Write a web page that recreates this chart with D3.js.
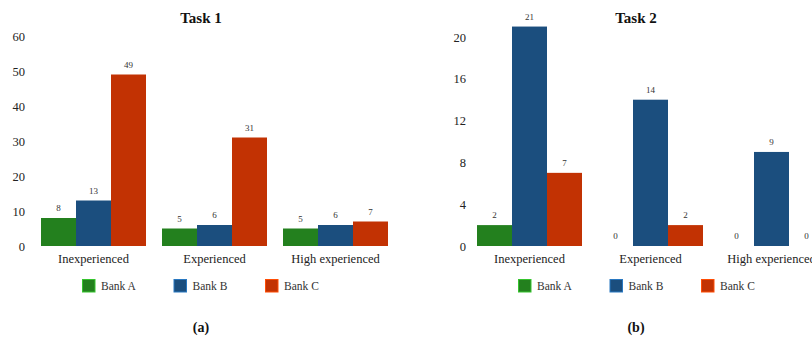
<!DOCTYPE html>
<html>
<head>
<meta charset="utf-8">
<script src="https://cdn.jsdelivr.net/npm/d3@7"></script>
<style>
  html, body { margin: 0; padding: 0; background: #fff; overflow: hidden; }
  svg { display: block; }
  svg text { font-family: "Liberation Serif", "Times New Roman", Times, serif; }
</style>
</head>
<body>
<svg id="chart" width="812" height="339"></svg>
<script>
// Experience levels and banks
const categories = ["Inexperienced", "Experienced", "High experienced"];
const banks = ["Bank A", "Bank B", "Bank C"];
const bankColors = ["#23801e", "#1b4e7e", "#c23203"];

// Task 1 counts, one array per bank, ordered like categories
const task1BankA = [8, 5, 5];
const task1BankB = [13, 6, 6];
const task1BankC = [49, 31, 7];
const task1Ticks = [0, 10, 20, 30, 40, 50, 60];

// Task 2 counts
const task2BankA = [2, 0, 0];
const task2BankB = [21, 14, 9];
const task2BankC = [7, 2, 0];
const task2Ticks = [0, 4, 8, 12, 16, 20];

const SERIF = "Liberation Serif, Times New Roman, Times, serif";
const svg = d3.select("#chart").attr("font-family", SERIF);
const color = d3.scaleOrdinal().domain(banks).range(bankColors);

function drawPanel(opt) {
  const g = svg.append("g");
  const baseline = 246;

  const y = d3.scaleLinear().domain([0, opt.yMax]).range([baseline, opt.yTop]);
  const x0 = d3.scaleBand().domain(categories)
    .range([opt.xStart, opt.xStart + 347]).paddingInner(16 / 121).paddingOuter(0);
  const x1 = d3.scaleBand().domain(banks).range([0, x0.bandwidth()]).padding(0);

  const rows = categories.map((c, i) => ({
    category: c,
    values: banks.map((b, j) => ({ bank: b, value: opt.series[j][i] }))
  }));

  // Title
  g.append("text")
    .attr("x", opt.titleX).attr("y", 23)
    .attr("text-anchor", "middle")
    .attr("font-weight", "bold").attr("font-size", 15).attr("fill", "#111")
    .text(opt.title);

  // Value axis (labels only)
  const yAxis = g.append("g")
    .attr("transform", `translate(${opt.yAxisX},0)`)
    .call(d3.axisLeft(y).tickValues(opt.ticks).tickSize(0).tickPadding(8))
    .attr("font-family", SERIF).attr("font-size", 12.5);
  yAxis.select(".domain").remove();
  yAxis.selectAll("text").attr("fill", "#222");

  // Category axis (labels only)
  const xAxis = g.append("g")
    .attr("transform", `translate(0,${baseline})`)
    .call(d3.axisBottom(x0).tickSize(0).tickPadding(8.5))
    .attr("font-family", SERIF).attr("font-size", 12.5);
  xAxis.select(".domain").remove();
  xAxis.selectAll("text").attr("fill", "#222");

  // Bars
  const groups = g.selectAll(".grp").data(rows).join("g")
    .attr("class", "grp")
    .attr("transform", d => `translate(${x0(d.category)},0)`);

  groups.selectAll("rect").data(d => d.values).join("rect")
    .attr("x", d => x1(d.bank))
    .attr("y", d => y(d.value))
    .attr("width", x1.bandwidth())
    .attr("height", d => baseline - y(d.value))
    .attr("fill", d => color(d.bank));

  // Value labels
  groups.selectAll("text.val").data(d => d.values).join("text")
    .attr("class", "val")
    .attr("x", d => x1(d.bank) + x1.bandwidth() / 2)
    .attr("y", d => y(d.value) - 7)
    .attr("text-anchor", "middle")
    .attr("font-size", 9).attr("fill", "#333")
    .text(d => d.value);

  // Legend
  const legend = g.selectAll(".leg").data(banks).join("g")
    .attr("class", "leg")
    .attr("transform", (d, i) => `translate(${opt.legendX + i * 91.5},279)`);
  legend.append("rect")
    .attr("x", 0.5).attr("y", 0.5).attr("width", 12.5).attr("height", 12.5)
    .attr("fill", d => color(d))
    .attr("stroke", d => d3.color(color(d)).brighter(1.2))
    .attr("stroke-width", 1);
  legend.append("text")
    .attr("x", 19).attr("y", 10.5)
    .attr("font-size", 11.5).attr("fill", "#333")
    .text(d => d);

  // Sub-caption
  g.append("text")
    .attr("x", opt.titleX).attr("y", 332)
    .attr("text-anchor", "middle")
    .attr("font-weight", "bold").attr("font-size", 14).attr("fill", "#111")
    .text(opt.caption);
}

drawPanel({
  title: "Task 1", caption: "(a)", titleX: 201,
  series: [task1BankA, task1BankB, task1BankC],
  yMax: 60, yTop: 36, ticks: task1Ticks, yAxisX: 33,
  xStart: 41, legendX: 82
});

drawPanel({
  title: "Task 2", caption: "(b)", titleX: 636,
  series: [task2BankA, task2BankB, task2BankC],
  yMax: 20, yTop: 37, ticks: task2Ticks, yAxisX: 474,
  xStart: 477, legendX: 518
});
</script>
</body>
</html>
